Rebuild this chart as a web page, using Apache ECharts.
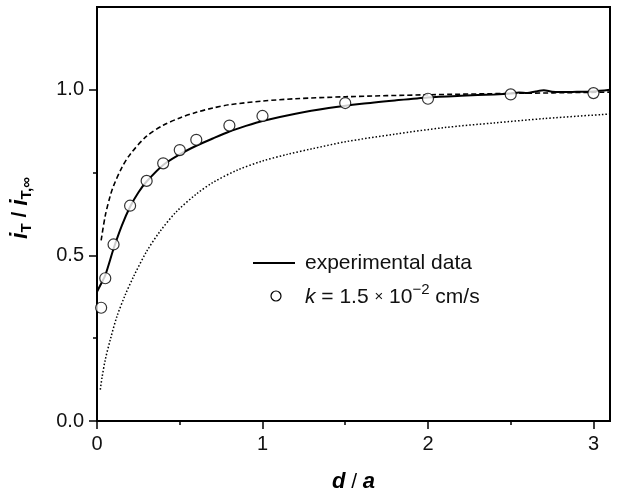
<!DOCTYPE html>
<html>
<head>
<meta charset="utf-8">
<script src="https://cdn.jsdelivr.net/npm/echarts@6/dist/echarts.min.js"></script>
<style>
html,body{margin:0;padding:0;background:#fff;}
#chart{width:618px;height:498px;}
</style>
</head>
<body>
<div id="chart"></div>
<script>
// ---- data ----
const expD = [0, 0.02, 0.05, 0.1, 0.15, 0.2, 0.25, 0.3, 0.4, 0.5, 0.6, 0.7, 0.8, 0.9, 1.0, 1.2, 1.4, 1.6, 1.8, 2.0, 2.2, 2.4, 2.5, 2.55, 2.6, 2.65, 2.7, 2.75, 2.8, 2.9, 3.0, 3.1];
const expV = [0.39, 0.41, 0.44, 0.52, 0.59, 0.647, 0.69, 0.723, 0.773, 0.805, 0.831, 0.853, 0.874, 0.891, 0.906, 0.928, 0.945, 0.958, 0.968, 0.977, 0.982, 0.986, 0.989, 0.992, 0.990, 0.995, 0.999, 0.994, 0.993, 0.994, 0.995, 1.0];

const theoryD = [0.025, 0.05, 0.1, 0.2, 0.3, 0.4, 0.5, 0.6, 0.8, 1.0, 1.5, 2.0, 2.5, 3.0];
const theoryV = [0.342, 0.431, 0.533, 0.65, 0.725, 0.778, 0.818, 0.849, 0.892, 0.921, 0.96, 0.973, 0.986, 0.99];

const upperD = [0.025, 0.05, 0.08, 0.1, 0.15, 0.2, 0.3, 0.4, 0.5, 0.6, 0.7, 0.8, 1.0, 1.2, 1.5, 2.0, 2.5, 3.1];
const upperV = [0.545, 0.62, 0.68, 0.71, 0.765, 0.805, 0.86, 0.893, 0.915, 0.932, 0.945, 0.955, 0.966, 0.973, 0.979, 0.985, 0.989, 0.993];

const lowerD = [0.02, 0.03, 0.05, 0.08, 0.12, 0.17, 0.22, 0.3, 0.38, 0.48, 0.6, 0.7, 0.85, 1.0, 1.15, 1.3, 1.5, 1.8, 2.1, 2.4, 2.7, 3.1];
const lowerV = [0.095, 0.13, 0.185, 0.245, 0.315, 0.38, 0.435, 0.512, 0.572, 0.632, 0.685, 0.72, 0.758, 0.785, 0.805, 0.822, 0.843, 0.866, 0.886, 0.9, 0.913, 0.927];

const xTickLabels = [0, 1, 2, 3];
const xMinorTicks = [0.5, 1.5, 2.5];
const yTickLabels = [0, 0.5, 1.0];
const yMinorTicks = [0.25, 0.75];

const legendExp = 'experimental data';
const legendTheory = '{it|k}{n| = 1.5 }{x|×}{n| 10}{sup|−2}{n| cm/s}';

// ---- chart ----
const FONT = '"Liberation Sans", Arial, Helvetica, sans-serif';
const zip = (a, b) => a.map((v, i) => [v, b[i]]);

const chart = echarts.init(document.getElementById('chart'), null, {renderer: 'canvas'});

const baseAxis = {
  min: 0,
  axisLine: {show: true, lineStyle: {color: '#000', width: 2}},
  splitLine: {show: false},
};

const option = {
  backgroundColor: '#fff',
  animation: false,
  grid: {left: 97, right: 8, top: 7, bottom: 77, show: true, borderColor: '#000', borderWidth: 2, backgroundColor: 'transparent'},
  xAxis: [
    Object.assign({}, baseAxis, {
      type: 'value', position: 'bottom', max: 3.1,
      axisTick: {show: true, length: 8, lineStyle: {color: '#000', width: 1.5}, customValues: xTickLabels},
      axisLabel: {customValues: xTickLabels, color: '#111', fontSize: 20, fontFamily: FONT, margin: 13,
                  formatter: v => String(v)},
      name: '{i|d}{s| / }{i|a}', nameLocation: 'middle', nameGap: 50,
      nameTextStyle: {rich: {
        i: {fontSize: 22, fontWeight: 'bold', fontStyle: 'italic', fontFamily: FONT, color: '#000'},
        s: {fontSize: 21, fontFamily: FONT, color: '#000'}
      }}
    }),
    {
      type: 'value', position: 'bottom', min: 0, max: 3.1,
      axisLine: {show: false}, splitLine: {show: false},
      axisTick: {show: true, length: 4, lineStyle: {color: '#000', width: 1.5}, customValues: xMinorTicks},
      axisLabel: {show: false}
    }
  ],
  yAxis: [
    Object.assign({}, baseAxis, {
      type: 'value', position: 'left', max: 1.25,
      axisTick: {show: true, length: 8, lineStyle: {color: '#000', width: 1.5}, customValues: yTickLabels},
      axisLabel: {customValues: yTickLabels, color: '#111', fontSize: 20, fontFamily: FONT, margin: 13,
                  formatter: v => v.toFixed(1)},
      name: '{i|i}{sub|T}{s| / }{i|i}{sub|T,∞}', nameLocation: 'middle', nameGap: 63, nameRotate: 90,
      nameTextStyle: {padding: [0, 0, 0, 12], rich: {
        i: {fontSize: 23, fontWeight: 'bold', fontStyle: 'italic', fontFamily: FONT, color: '#000'},
        sub: {fontSize: 15, fontWeight: 'bold', fontFamily: FONT, color: '#000', padding: [12, 0, 0, 0]},
        s: {fontSize: 21, fontWeight: 'bold', fontFamily: FONT, color: '#000'}
      }}
    }),
    {
      type: 'value', position: 'left', min: 0, max: 1.25,
      axisLine: {show: false}, splitLine: {show: false},
      axisTick: {show: true, length: 4, lineStyle: {color: '#000', width: 1.5}, customValues: yMinorTicks},
      axisLabel: {show: false}
    }
  ],
  series: [
    {
      name: 'upper', type: 'line', xAxisIndex: 0, yAxisIndex: 0,
      data: zip(upperD, upperV), symbol: 'none', smooth: 0.3,
      lineStyle: {color: '#000', width: 1.6, type: [5, 3]}, z: 2
    },
    {
      name: 'lower', type: 'line', xAxisIndex: 0, yAxisIndex: 0,
      data: zip(lowerD, lowerV), symbol: 'none', smooth: 0.3,
      lineStyle: {color: '#000', width: 1.5, type: [1.5, 2]}, z: 2
    },
    {
      name: legendExp, type: 'line', xAxisIndex: 0, yAxisIndex: 0,
      data: zip(expD, expV), symbol: 'none', smooth: 0.25,
      lineStyle: {color: '#000', width: 2}, z: 3
    },
    {
      name: 'theory', type: 'scatter', xAxisIndex: 0, yAxisIndex: 0,
      data: zip(theoryD, theoryV), symbol: 'circle', symbolSize: 11,
      itemStyle: {color: '#fff', borderColor: '#000', borderWidth: 1.2}, z: 5
    }
  ],
  graphic: [
    {type: 'line', shape: {x1: 253, y1: 263, x2: 295, y2: 263}, style: {stroke: '#000', lineWidth: 2}},
    {type: 'text', x: 305, y: 263, style: {text: legendExp, font: '21px ' + FONT, fill: '#111', verticalAlign: 'middle'}},
    {type: 'circle', shape: {cx: 276, cy: 296, r: 5}, style: {fill: '#fff', stroke: '#000', lineWidth: 1.2}},
    {type: 'text', x: 305, y: 297, style: {
      text: legendTheory, verticalAlign: 'middle', fill: '#111',
      rich: {
        it: {fontSize: 21, fontStyle: 'italic', fontFamily: FONT, fill: '#111'},
        n: {fontSize: 21, fontFamily: FONT, fill: '#111'},
        x: {fontSize: 15, fontFamily: FONT, fill: '#111'},
        sup: {fontSize: 15, fontFamily: FONT, fill: '#111', padding: [0, 0, 14, 0]}
      }
    }}
  ]
};
chart.setOption(option);
</script>
</body>
</html>
